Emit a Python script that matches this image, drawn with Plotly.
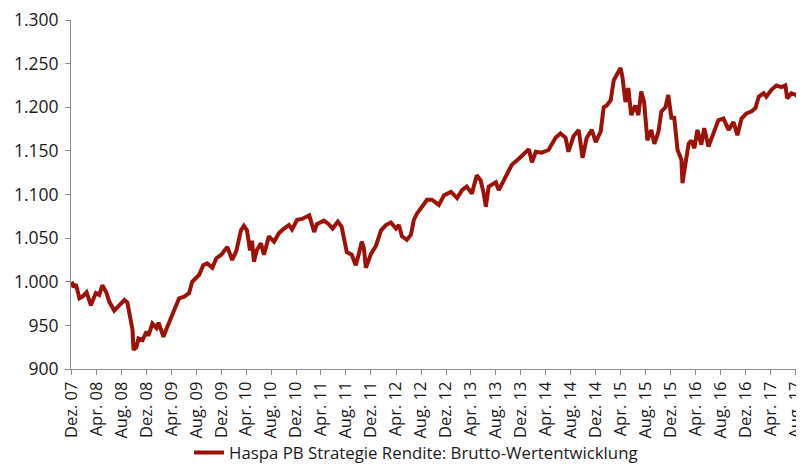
import plotly.graph_objects as go

dates = [
    "2007-12-01", "2007-12-06", "2007-12-10", "2007-12-23", "2008-01-09", "2008-01-24",
    "2008-02-13", "2008-03-05", "2008-03-29", "2008-04-15", "2008-04-30", "2008-05-19",
    "2008-06-03", "2008-06-27", "2008-07-21", "2008-08-15", "2008-08-30", "2008-09-14",
    "2008-09-24", "2008-09-29", "2008-10-13", "2008-10-23", "2008-11-12", "2008-12-01",
    "2008-12-10", "2008-12-30", "2009-01-19", "2009-01-29", "2009-02-22", "2009-03-12",
    "2009-04-06", "2009-04-25", "2009-05-09", "2009-06-03", "2009-06-27", "2009-07-12",
    "2009-08-15", "2009-09-04", "2009-09-23", "2009-10-18", "2009-11-07", "2009-12-01",
    "2009-12-30", "2010-01-23", "2010-02-12", "2010-03-07", "2010-03-21", "2010-04-05",
    "2010-04-20", "2010-04-30", "2010-05-09", "2010-05-23", "2010-06-12", "2010-06-27",
    "2010-07-21", "2010-08-15", "2010-08-30", "2010-09-09", "2010-10-03", "2010-10-27",
    "2010-11-11", "2010-12-06", "2010-12-30", "2011-02-03", "2011-02-27", "2011-03-12",
    "2011-04-15", "2011-05-09", "2011-05-28", "2011-06-22", "2011-07-11", "2011-07-26",
    "2011-08-05", "2011-08-29", "2011-09-18", "2011-10-03", "2011-10-17", "2011-10-27",
    "2011-11-06", "2011-12-01", "2011-12-25", "2012-01-19", "2012-02-12", "2012-03-07",
    "2012-04-01", "2012-04-15", "2012-04-30", "2012-05-24", "2012-06-13", "2012-06-27",
    "2012-07-12", "2012-08-06", "2012-08-30", "2012-09-23", "2012-10-27", "2012-11-21",
    "2012-12-25", "2013-01-24", "2013-02-17", "2013-03-12", "2013-04-06", "2013-04-30",
    "2013-05-19", "2013-06-03", "2013-06-13", "2013-06-27", "2013-08-01", "2013-08-15",
    "2013-09-19", "2013-10-18", "2013-11-21", "2013-12-15", "2014-01-09", "2014-01-24",
    "2014-02-12", "2014-03-12", "2014-04-15", "2014-05-19", "2014-06-12", "2014-07-07",
    "2014-07-21", "2014-08-15", "2014-09-09", "2014-09-28", "2014-10-18", "2014-11-12",
    "2014-12-01", "2014-12-25", "2015-01-09", "2015-01-24", "2015-02-12", "2015-02-27",
    "2015-03-12", "2015-04-01", "2015-04-10", "2015-04-25", "2015-05-09", "2015-05-23",
    "2015-06-12", "2015-06-27", "2015-07-11", "2015-07-25", "2015-08-10", "2015-08-29",
    "2015-09-13", "2015-10-03", "2015-10-17", "2015-11-06", "2015-11-20", "2015-12-05",
    "2015-12-19", "2016-01-04", "2016-01-23", "2016-01-28", "2016-02-12", "2016-02-27",
    "2016-03-11", "2016-03-26", "2016-04-10", "2016-04-29", "2016-05-13", "2016-06-03",
    "2016-06-27", "2016-07-21", "2016-08-15", "2016-09-09", "2016-10-03", "2016-10-22",
    "2016-11-11", "2016-12-05", "2016-12-29", "2017-01-18", "2017-02-03", "2017-02-27",
    "2017-03-12", "2017-04-06", "2017-04-30", "2017-05-24", "2017-06-13", "2017-06-22",
    "2017-07-12", "2017-08-06", "2017-08-25",
]

values = [
    1000, 998, 994, 997, 981, 983,
    988, 973, 987, 985, 996, 988,
    977, 967, 973, 979, 976, 958,
    945, 922, 925, 935, 933, 943,
    938, 952, 947, 953, 937, 948,
    962, 971, 981, 983, 987, 1000,
    1008, 1019, 1021, 1016, 1027, 1031,
    1040, 1025, 1035, 1059, 1064, 1059,
    1036, 1047, 1023, 1036, 1044, 1031,
    1052, 1046, 1053, 1056, 1061, 1065,
    1060, 1071, 1072, 1076, 1057, 1066,
    1070, 1066, 1061, 1069, 1063, 1042,
    1034, 1031, 1019, 1032, 1046, 1039,
    1016, 1032, 1041, 1059, 1065, 1068,
    1061, 1065, 1052, 1048, 1054, 1071,
    1078, 1086, 1094, 1094, 1088, 1099,
    1103, 1096, 1105, 1109, 1101, 1122,
    1116, 1101, 1086, 1109, 1114, 1105,
    1122, 1134, 1141, 1146, 1152, 1137,
    1149, 1148, 1151, 1165, 1170, 1165,
    1149, 1167, 1174, 1142, 1165, 1174,
    1160, 1172, 1200, 1202, 1208, 1231,
    1236, 1245, 1235, 1206, 1222, 1191,
    1202, 1191, 1218, 1206, 1162, 1174,
    1158, 1172, 1195, 1200, 1214, 1188,
    1188, 1151, 1140, 1113, 1136, 1158,
    1162, 1153, 1174, 1157, 1176, 1155,
    1170, 1185, 1187, 1174, 1183, 1168,
    1187, 1193, 1195, 1199, 1212, 1216,
    1212, 1220, 1225, 1223, 1225, 1210,
    1216, 1214, 1206,
]

tick_dates = [
    "2007-12-01", "2008-04-01", "2008-08-01", "2008-12-01", "2009-04-01", "2009-08-01",
    "2009-12-01", "2010-04-01", "2010-08-01", "2010-12-01", "2011-04-01", "2011-08-01",
    "2011-12-01", "2012-04-01", "2012-08-01", "2012-12-01", "2013-04-01", "2013-08-01",
    "2013-12-01", "2014-04-01", "2014-08-01", "2014-12-01", "2015-04-01", "2015-08-01",
    "2015-12-01", "2016-04-01", "2016-08-01", "2016-12-01", "2017-04-01", "2017-08-01",
]
tick_labels = [
    "Dez. 07", "Apr. 08", "Aug. 08", "Dez. 08", "Apr. 09", "Aug. 09",
    "Dez. 09", "Apr. 10", "Aug. 10", "Dez. 10", "Apr. 11", "Aug. 11",
    "Dez. 11", "Apr. 12", "Aug. 12", "Dez. 12", "Apr. 13", "Aug. 13",
    "Dez. 13", "Apr. 14", "Aug. 14", "Dez. 14", "Apr. 15", "Aug. 15",
    "Dez. 15", "Apr. 16", "Aug. 16", "Dez. 16", "Apr. 17", "Aug. 17",
]
y_ticks = [900, 950, 1000, 1050, 1100, 1150, 1200, 1250, 1300]
y_labels = ["900", "950", "1.000", "1.050", "1.100", "1.150", "1.200", "1.250", "1.300"]

series_name = "Haspa PB Strategie Rendite: Brutto-Wertentwicklung"

fig = go.Figure()
fig.add_trace(go.Scatter(
    x=dates, y=values, mode="lines", name=series_name,
    line=dict(color="#9C1208", width=4),
    showlegend=True,
))

axis_col = "#8C8C8C"
# The page body adds an 8px margin, so the figure is 8px smaller on each axis.
fig.update_layout(
    width=796, height=464,
    margin=dict(l=63, r=2, t=12, b=103, autoexpand=False),
    paper_bgcolor="white", plot_bgcolor="white",
    font=dict(family="Open Sans", size=15, color="#1a1a1a"),
    showlegend=True,
    legend=dict(orientation="h", x=0.472, xanchor="center",
                yref="container", y=0.004, yanchor="bottom",
                font=dict(size=16.8, color="#1a1a1a"), bgcolor="rgba(0,0,0,0)"),
    xaxis=dict(
        type="date", range=["2007-11-29", "2017-09-02"], automargin=False,
        tickmode="array", tickvals=tick_dates, ticktext=tick_labels,
        tickangle=-90, ticks="outside", ticklen=5, tickcolor=axis_col,
        ticklabeloverflow="allow",
        showline=True, linecolor=axis_col, linewidth=1,
        showgrid=False, zeroline=False,
        tickfont=dict(size=16.5, color="#1a1a1a"),
    ),
    yaxis=dict(
        range=[900, 1300], tickmode="array", tickvals=y_ticks, ticktext=y_labels,
        automargin=False, ticklabeloverflow="allow",
        ticks="outside", ticklen=5, tickcolor=axis_col, ticklabelstandoff=3,
        showline=True, linecolor=axis_col, linewidth=1,
        showgrid=False, zeroline=False,
        tickfont=dict(size=17.5, color="#1a1a1a"),
    ),
)

fig.write_html("out.html")
